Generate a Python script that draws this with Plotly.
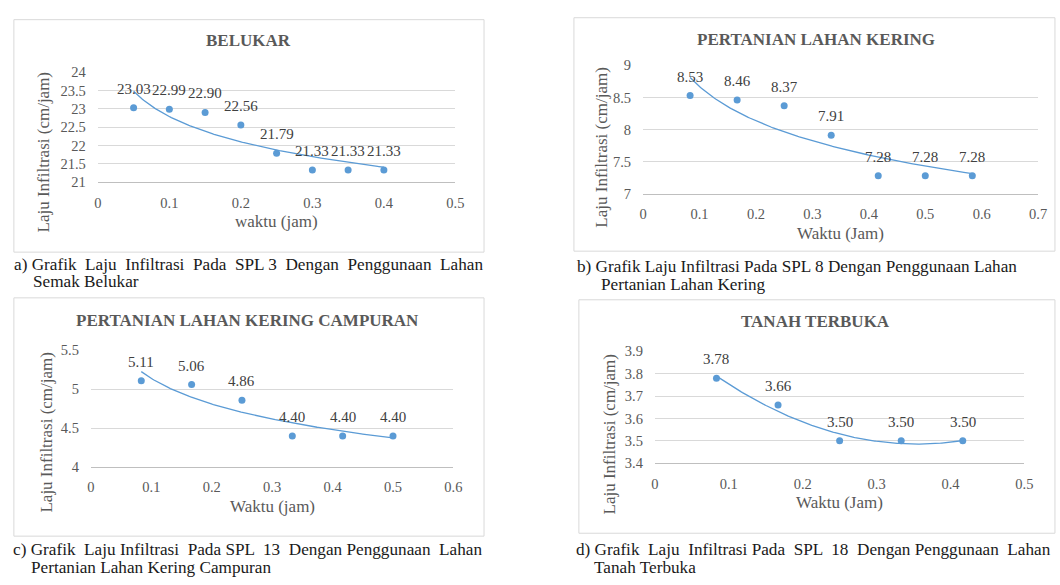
import numpy as np
import plotly.graph_objects as go

W, H = 1060, 585

# ---------------- data ----------------
titles = ["BELUKAR", "PERTANIAN LAHAN KERING", "PERTANIAN LAHAN KERING CAMPURAN", "TANAH TERBUKA"]
xtitles = ["waktu (jam)", "Waktu (Jam)", "Waktu (jam)", "Waktu (Jam)"]
ytitle = "Laju Infiltrasi (cm/jam)"

x_a = [0.05, 0.10, 0.15, 0.20, 0.25, 0.30, 0.35, 0.40]
y_a = [23.03, 22.99, 22.90, 22.56, 21.79, 21.33, 21.33, 21.33]

x_b = [5/60, 10/60, 15/60, 20/60, 25/60, 30/60, 35/60]
y_b = [8.53, 8.46, 8.37, 7.91, 7.28, 7.28, 7.28]

x_c = [5/60, 10/60, 15/60, 20/60, 25/60, 30/60]
y_c = [5.11, 5.06, 4.86, 4.40, 4.40, 4.40]

x_d = [5/60, 10/60, 15/60, 20/60, 25/60]
y_d = [3.78, 3.66, 3.50, 3.50, 3.50]

xticks_a = [0, 0.1, 0.2, 0.3, 0.4, 0.5]
xticks_b = [0, 0.1, 0.2, 0.3, 0.4, 0.5, 0.6, 0.7]
xticks_c = [0, 0.1, 0.2, 0.3, 0.4, 0.5, 0.6]
xticks_d = [0, 0.1, 0.2, 0.3, 0.4, 0.5]
yticks_a = ["21", "21.5", "22", "22.5", "23", "23.5", "24"]
yticks_b = ["7", "7.5", "8", "8.5", "9"]
yticks_c = ["4", "4.5", "5", "5.5"]
yticks_d = ["3.4", "3.5", "3.6", "3.7", "3.8", "3.9"]

trend_kind = ["log", "log", "log", "poly2"]

N = "\u00a0"
captions = [
    [f"a){N}Grafik {N}Laju {N}Infiltrasi {N}Pada {N}SPL 3 {N}Dengan {N}Penggunaan {N}Lahan", "Semak Belukar"],
    ["b) Grafik Laju Infiltrasi Pada SPL 8 Dengan Penggunaan Lahan", "Pertanian Lahan Kering"],
    [f"c){N}Grafik {N}Laju Infiltrasi {N}Pada SPL {N}13 {N}Dengan Penggunaan {N}Lahan", "Pertanian Lahan Kering Campuran"],
    [f"d){N}Grafik {N}Laju {N}Infiltrasi Pada {N}SPL {N}18 {N}Dengan Penggunaan {N}Lahan", "Tanah Terbuka"],
]

# ---------------- layout geometry (pixels) ----------------
panels = [
    dict(x=x_a, y=y_a, xt=xticks_a, yt=yticks_a, plot=(95, 457, 66, 179), box=(10, 486, 12, 251),
         title=(248, 33), xtitle_y=220, ytitle=(40, 148), cap=((8, 264), (27, 281))),
    dict(x=x_b, y=y_b, xt=xticks_b, yt=yticks_b, plot=(647, 1047, 59, 191), box=(577, 1064, 10, 250),
         title=(822, 32), xtitle_y=232, ytitle=(605, 143), cap=((578, 266), (602, 284))),
    dict(x=x_c, y=y_c, xt=xticks_c, yt=yticks_c, plot=(88, 455, 352, 472), box=(10, 486, 298, 543),
         title=(247, 321), xtitle_y=513, ytitle=(43, 436), cap=((7, 557), (25, 575))),
    dict(x=x_d, y=y_d, xt=xticks_d, yt=yticks_d, plot=(659, 1033, 353, 468), box=(582, 1064, 300, 540),
         title=(822, 322), xtitle_y=508, ytitle=(613, 438), cap=((577, 557), (595, 575))),
]

FONT = "Liberation Serif, Times New Roman, serif"
BLUE = "#5B9BD5"
GREY_TXT = "#595959"
GRID = "#D9D9D9"

def px(x):
    return x / W

def py(y):
    return 1 - y / H

fig = go.Figure()
annotations = []
shapes = []

for i, p in enumerate(panels):
    n = i + 1
    xa = "x" if n == 1 else f"x{n}"
    ya = "y" if n == 1 else f"y{n}"
    xv = np.array(p["x"])
    yv = np.array(p["y"])

    # trendline fitted to the data (logarithmic / 2nd-order polynomial)
    xs = np.linspace(xv.min(), xv.max(), 200)
    if trend_kind[i] == "log":
        b, a = np.polyfit(np.log(xv), yv, 1)
        ys = a + b * np.log(xs)
    else:
        c = np.polyfit(xv, yv, 2)
        ys = np.polyval(c, xs)
    fig.add_trace(go.Scatter(x=xs, y=ys, mode="lines", line=dict(color=BLUE, width=1.3),
                             xaxis=xa, yaxis=ya, showlegend=False, hoverinfo="skip"))
    fig.add_trace(go.Scatter(x=xv, y=yv, mode="markers", marker=dict(color=BLUE, size=7),
                             xaxis=xa, yaxis=ya, showlegend=False, cliponaxis=False))

    # data labels
    for xx, yy in zip(p["x"], p["y"]):
        annotations.append(dict(x=xx, y=yy, xref=xa, yref=ya, text=f"{yy:.2f}", showarrow=False,
                                yshift=19, font=dict(family=FONT, size=15, color="#404040")))

    l, r, t, btm = p["plot"]
    yvals = [float(v) for v in p["yt"]]
    ax_x = dict(domain=[px(l), px(r)], range=[p["xt"][0], p["xt"][-1]], tickvals=p["xt"],
                ticktext=[("%g" % v) for v in p["xt"]], showgrid=False, zeroline=False,
                showline=True, linecolor="#BFBFBF", linewidth=1, ticks="",
                tickfont=dict(family=FONT, size=14.5, color=GREY_TXT), ticklabelstandoff=7,
                anchor=ya, fixedrange=True)
    ax_y = dict(domain=[py(btm), py(t)], range=[yvals[0], yvals[-1]], tickvals=yvals,
                ticktext=p["yt"], showgrid=True, gridcolor=GRID, gridwidth=1, zeroline=False,
                showline=False, ticks="", tickfont=dict(family=FONT, size=14.5, color=GREY_TXT),
                ticklabelstandoff=11, anchor=xa, fixedrange=True)
    fig.layout[f"xaxis{'' if n == 1 else n}"] = ax_x
    fig.layout[f"yaxis{'' if n == 1 else n}"] = ax_y

    # panel border
    bl, br, bt, bb = p["box"]
    shapes.append(dict(type="rect", xref="paper", yref="paper", x0=px(bl), x1=px(br), y0=py(bb), y1=py(bt),
                       line=dict(color=GRID, width=1), fillcolor="rgba(0,0,0,0)", layer="below"))

    # chart title
    annotations.append(dict(x=px(p["title"][0]), y=py(p["title"][1]), xref="paper", yref="paper",
                            text=f"<b>{titles[i]}</b>", showarrow=False, xanchor="center", yanchor="middle",
                            font=dict(family=FONT, size=17, color=GREY_TXT)))
    # x-axis title
    annotations.append(dict(x=px((l + r) / 2), y=py(p["xtitle_y"]), xref="paper", yref="paper",
                            text=xtitles[i], showarrow=False, xanchor="center", yanchor="middle",
                            font=dict(family=FONT, size=17, color=GREY_TXT)))
    # y-axis title
    annotations.append(dict(x=px(p["ytitle"][0]), y=py(p["ytitle"][1]), xref="paper", yref="paper",
                            text=ytitle, textangle=-90, showarrow=False, xanchor="center", yanchor="middle",
                            font=dict(family=FONT, size=17, color=GREY_TXT)))
    # caption under the panel
    for (cx, cy), line in zip(p["cap"], captions[i]):
        annotations.append(dict(x=px(cx), y=py(cy), xref="paper", yref="paper", text=line,
                                showarrow=False, xanchor="left", yanchor="middle",
                                font=dict(family=FONT, size=17.2, color="#1a1a1a")))

fig.update_layout(width=W, height=H, margin=dict(l=0, r=0, t=0, b=0),
                  paper_bgcolor="white", plot_bgcolor="white",
                  annotations=annotations, shapes=shapes, showlegend=False)

fig.write_html("out.html", config={"displayModeBar": False},
               post_script="document.body.style.margin='0px';document.body.style.padding='0px';"
                           "document.documentElement.style.overflow='hidden';")
